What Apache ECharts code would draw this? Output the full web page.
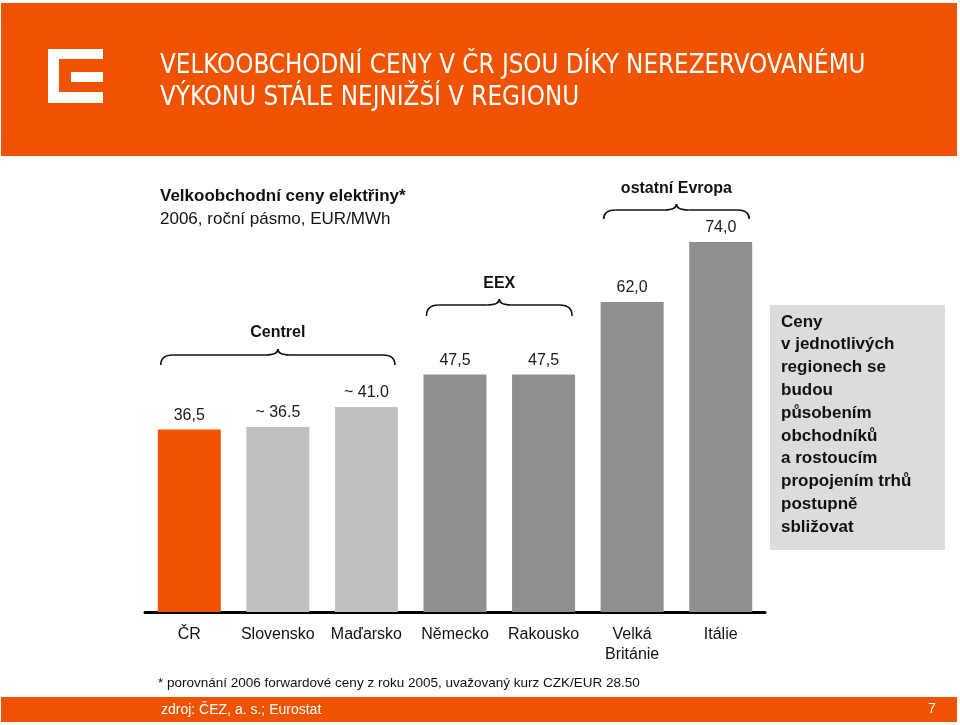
<!DOCTYPE html>
<html><head><meta charset="utf-8">
<script src="https://cdn.jsdelivr.net/npm/echarts@6/dist/echarts.min.js"></script>
<style>html,body{margin:0;padding:0;background:#fff}#c{width:960px;height:725px}</style>
</head><body><div id="c"></div>
<script>
const categories = ['ČR', 'Slovensko', 'Maďarsko', 'Německo', 'Rakousko', 'Velká\nBritánie', 'Itálie'];
const prices = [36.5, 37.0, 41.0, 47.5, 47.5, 62.0, 74.0];
const priceLabels = ['36,5', '~ 36.5', '~ 41.0', '47,5', '47,5', '62,0', '74,0'];
const barColors = ['#EF5300', '#C0C0C0', '#C0C0C0', '#8F8F8F', '#8F8F8F', '#8F8F8F', '#8F8F8F'];
const groups = [
  {name: 'Centrel', from: 0, to: 2},
  {name: 'EEX', from: 3, to: 4},
  {name: 'ostatní Evropa', from: 5, to: 6}
];
const titleLines = ['VELKOOBCHODNÍ CENY V ČR JSOU DÍKY NEREZERVOVANÉMU', 'VÝKONU STÁLE NEJNIŽŠÍ V REGIONU'];
const subtitle1 = 'Velkoobchodní ceny elektřiny*';
const subtitle2 = '2006, roční pásmo, EUR/MWh';
const sideText = ['Ceny', 'v jednotlivých', 'regionech se', 'budou', 'působením', 'obchodníků', 'a rostoucím', 'propojením trhů', 'postupně', 'sbližovat'];
const footnote = '* porovnání 2006 forwardové ceny z roku 2005, uvažovaný kurz CZK/EUR 28.50';
const source = 'zdroj: ČEZ, a. s.; Eurostat';
const pageNo = '7';

const ORANGE = '#EF5300';
const FONT = "'Liberation Sans', Arial, sans-serif";
const chart = echarts.init(document.getElementById('c'), null, {renderer: 'canvas'});

const BAR_W = 63;
const option = {
  animation: false,
  grid: {left: 145, width: 620, top: 212, height: 400},
  xAxis: {
    type: 'category', data: categories,
    axisLine: {lineStyle: {color: '#000', width: 3}},
    axisTick: {show: false},
    axisLabel: {color: '#111', fontSize: 16, fontFamily: FONT, margin: 13, lineHeight: 20, interval: 0}
  },
  yAxis: {type: 'value', min: 0, max: 80, show: false},
  series: [{
    type: 'bar', barWidth: BAR_W,
    data: prices.map((v, i) => ({value: v, itemStyle: {color: barColors[i]}})),
    label: {
      show: true, position: 'top', distance: 6, color: '#1a1a1a', fontSize: 16, fontFamily: FONT,
      formatter: p => priceLabels[p.dataIndex]
    }
  }]
};
chart.setOption(option);

function braceParts(x1, x2, yTip, yMid, yEnd) {
  const xm = (x1 + x2) / 2, r = 12;
  const st = {stroke: '#111', lineWidth: 1.6, fill: null};
  return [
    {type: 'bezierCurve', shape: {x1: x1, y1: yEnd, cpx1: x1, cpy1: yMid, x2: x1 + r, y2: yMid}, style: st},
    {type: 'line', shape: {x1: x1 + r, y1: yMid, x2: xm - r, y2: yMid}, style: st},
    {type: 'bezierCurve', shape: {x1: xm - r, y1: yMid, cpx1: xm, cpy1: yMid, x2: xm, y2: yTip}, style: st},
    {type: 'bezierCurve', shape: {x1: xm, y1: yTip, cpx1: xm, cpy1: yMid, x2: xm + r, y2: yMid}, style: st},
    {type: 'line', shape: {x1: xm + r, y1: yMid, x2: x2 - r, y2: yMid}, style: st},
    {type: 'bezierCurve', shape: {x1: x2 - r, y1: yMid, cpx1: x2, cpy1: yMid, x2: x2, y2: yEnd}, style: st}
  ];
}
const braceY = [
  {label: 333, tip: 349, mid: 355, end: 365},
  {label: 284, tip: 299, mid: 305, end: 316},
  {label: 189, tip: 204, mid: 210, end: 219}
];

const g = [];
// header
g.push({type: 'rect', shape: {x: 1, y: 3, width: 956, height: 153}, style: {fill: ORANGE}});
// logo
g.push({type: 'rect', shape: {x: 48, y: 49, width: 55, height: 54}, style: {fill: '#fff'}});
g.push({type: 'rect', shape: {x: 59, y: 59, width: 44, height: 33}, style: {fill: ORANGE}});
g.push({type: 'rect', shape: {x: 71, y: 72, width: 32, height: 10}, style: {fill: '#fff'}});
titleLines.forEach((t, i) => g.push({type: 'text', x: 160, y: 66 + i * 32,
  style: {text: t, fill: '#fff', font: "25.7px 'DejaVu Sans Condensed', sans-serif", verticalAlign: 'middle'}}));
// subtitle
g.push({type: 'text', x: 160, y: 196, style: {text: subtitle1, fill: '#111', font: 'bold 17px ' + FONT, verticalAlign: 'middle'}});
g.push({type: 'text', x: 160, y: 219, style: {text: subtitle2, fill: '#111', font: '17px ' + FONT, verticalAlign: 'middle'}});
// side box
g.push({type: 'rect', shape: {x: 770, y: 305, width: 175, height: 245}, style: {fill: '#DCDCDC'}});
sideText.forEach((t, i) => g.push({type: 'text', x: 781, y: 322 + i * 22.8,
  style: {text: t, fill: '#111', font: 'bold 17px ' + FONT, verticalAlign: 'middle'}}));
// footnote
g.push({type: 'text', x: 158, y: 683, style: {text: footnote, fill: '#111', font: '13.5px ' + FONT, verticalAlign: 'middle'}});
// footer
g.push({type: 'rect', shape: {x: 1, y: 697, width: 956, height: 25}, style: {fill: ORANGE}});
g.push({type: 'text', x: 161, y: 710, style: {text: source, fill: '#fff', font: "14px 'Liberation Sans Narrow', " + FONT, verticalAlign: 'middle'}});
g.push({type: 'text', x: 932, y: 709, style: {text: pageNo, fill: '#fff', font: '14px ' + FONT, verticalAlign: 'middle', align: 'center'}});
// braces
groups.forEach((gr, k) => {
  const xa = chart.convertToPixel({xAxisIndex: 0}, gr.from) - BAR_W / 2 + 3;
  const xb = chart.convertToPixel({xAxisIndex: 0}, gr.to) + BAR_W / 2 - 3;
  const b = braceY[k];
  braceParts(xa, xb, b.tip, b.mid, b.end).forEach(p => g.push(p));
  g.push({type: 'text', x: (xa + xb) / 2, y: b.label,
    style: {text: gr.name, fill: '#111', font: 'bold 16px ' + FONT, align: 'center', verticalAlign: 'middle'}});
});
chart.setOption({graphic: {elements: g}});
</script></body></html>
